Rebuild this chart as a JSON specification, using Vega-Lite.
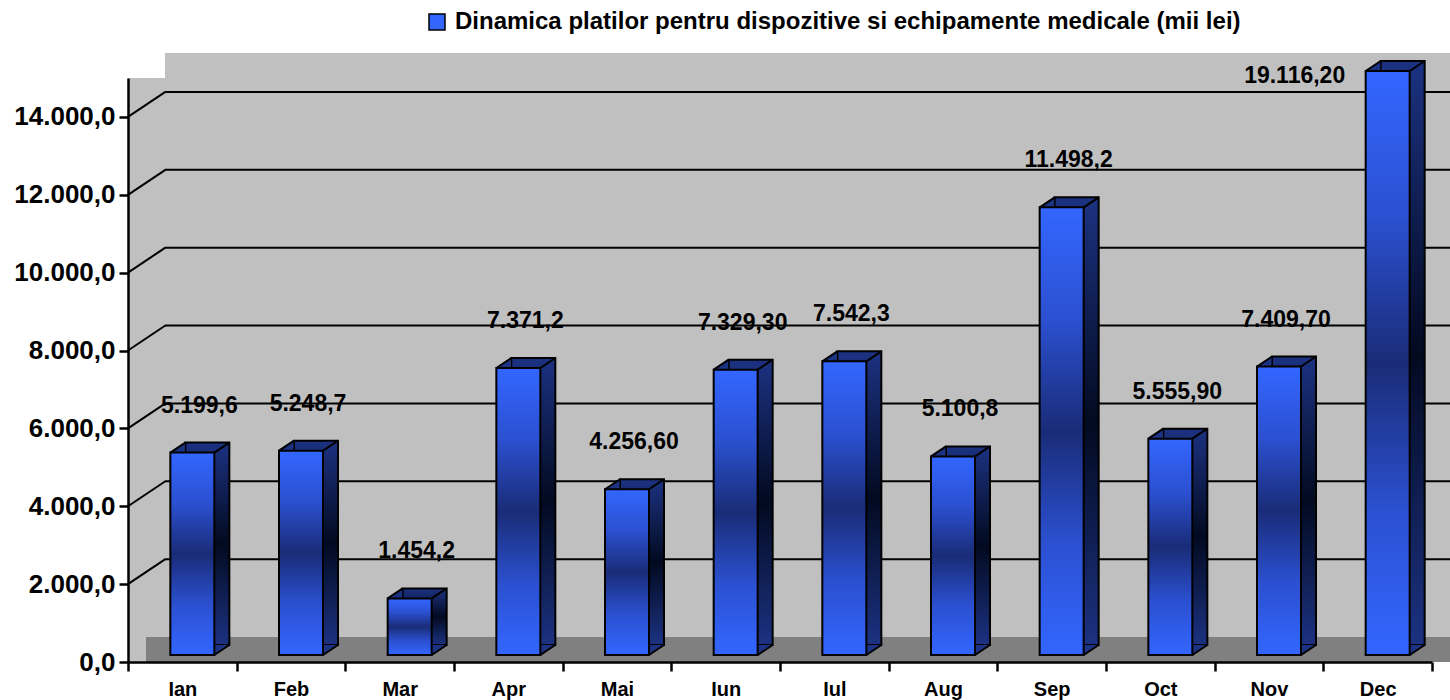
{
  "$schema": "https://vega.github.io/schema/vega-lite/v6.json",
  "autosize": {"type": "none"},
  "width": 1304,
  "height": 584,
  "padding": {"left": 128, "top": 78, "right": 18, "bottom": 38},
  "background": "white",
  "config": {
    "font": "Liberation Sans",
    "view": {"fill": "#c0c0c0", "stroke": null},
    "locale": {"number": {"decimal": ",", "thousands": ".", "grouping": [3], "currency": ["", ""]}},
    "axis": {"labelFont": "Liberation Sans", "labelFontWeight": "bold", "labelColor": "black", "domainColor": "black", "tickColor": "black", "domainWidth": 2.5, "tickWidth": 2.5, "grid": false, "title": null}
  },
  "data": {"values": [
    {"luna": "Ian", "valoare": 5199.6, "eticheta": "5.199,6"},
    {"luna": "Feb", "valoare": 5248.7, "eticheta": "5.248,7"},
    {"luna": "Mar", "valoare": 1454.2, "eticheta": "1.454,2"},
    {"luna": "Apr", "valoare": 7371.2, "eticheta": "7.371,2"},
    {"luna": "Mai", "valoare": 4256.6, "eticheta": "4.256,60"},
    {"luna": "Iun", "valoare": 7329.3, "eticheta": "7.329,30"},
    {"luna": "Iul", "valoare": 7542.3, "eticheta": "7.542,3"},
    {"luna": "Aug", "valoare": 5100.8, "eticheta": "5.100,8"},
    {"luna": "Sep", "valoare": 11498.2, "eticheta": "11.498,2"},
    {"luna": "Oct", "valoare": 5555.9, "eticheta": "5.555,90"},
    {"luna": "Nov", "valoare": 7409.7, "eticheta": "7.409,70"},
    {"luna": "Dec", "valoare": 19116.2, "eticheta": "19.116,20"}
  ]},
  "encoding": {
    "x": {"field": "luna", "type": "nominal", "sort": null,
      "scale": {"domain": ["Ian", "Feb", "Mar", "Apr", "Mai", "Iun", "Iul", "Aug", "Sep", "Oct", "Nov", "Dec"], "paddingInner": 0, "paddingOuter": 0},
      "axis": {"labelAngle": 0, "labelFontSize": 20, "tickBand": "extent", "tickSize": 9, "labelPadding": 8}}
  },
  "layer": [
    {
      "data": {"values": [{"z": 0, "t": 15000}]},
      "mark": {"type": "rect", "color": "#c0c0c0", "xOffset": 37, "x2Offset": 80, "yOffset": -25, "y2Offset": -25},
      "encoding": {
        "x": {"datum": "Ian", "bandPosition": 0},
        "x2": {"datum": "Dec"},
        "y": {"field": "z", "type": "quantitative"},
        "y2": {"field": "t"}
      }
    },
    {
      "data": {"values": [{"z": 0}]},
      "mark": {"type": "rect", "color": "#808080", "xOffset": 18, "x2Offset": 80, "yOffset": -25},
      "encoding": {
        "x": {"datum": "Ian", "bandPosition": 0},
        "x2": {"datum": "Dec"},
        "y": {"field": "z", "type": "quantitative"},
        "y2": {"field": "z"}
      }
    },
    {
      "data": {"values": [{"g": 2000}, {"g": 4000}, {"g": 6000}, {"g": 8000}, {"g": 10000}, {"g": 12000}, {"g": 14000}]},
      "mark": {"type": "rule", "color": "black", "strokeWidth": 2, "xOffset": 37, "x2Offset": 80, "yOffset": -25, "y2Offset": -25},
      "encoding": {
        "x": {"datum": "Ian", "bandPosition": 0},
        "x2": {"datum": "Dec"},
        "y": {"field": "g", "type": "quantitative"},
        "y2": {"field": "g"}
      }
    },
    {
      "data": {"values": [{"g": 2000}, {"g": 4000}, {"g": 6000}, {"g": 8000}, {"g": 10000}, {"g": 12000}, {"g": 14000}]},
      "mark": {"type": "rule", "color": "black", "strokeWidth": 2, "x2Offset": -17, "y2Offset": -25},
      "encoding": {
        "x": {"datum": "Ian", "bandPosition": 0},
        "x2": {"datum": "Ian"},
        "y": {"field": "g", "type": "quantitative"},
        "y2": {"field": "g"}
      }
    },
    {
      "mark": {"type": "bar", "width": 44, "xOffset": 25, "yOffset": -17, "y2Offset": -17, "stroke": "black", "strokeWidth": 2,
        "fill": {"gradient": "linear", "x1": 0, "y1": 0, "x2": 0, "y2": 1, "stops": [
          {"offset": 0, "color": "#1c3282"}, {"offset": 0.5, "color": "#020a20"}, {"offset": 1, "color": "#1c3282"}]}},
      "encoding": {
        "y": {"field": "valoare", "type": "quantitative",
          "scale": {"domain": [0, 15000], "clamp": true, "nice": false},
          "axis": {"values": [0, 2000, 4000, 6000, 8000, 10000, 12000, 14000], "format": ",.1f", "labelFontSize": 26, "tickSize": 9, "labelPadding": 4}}
      }
    },
    {
      "mark": {"type": "point", "shape": "M -1 0.667 L 1 -0.667 L 1 0.667 Z", "size": 225, "filled": true, "opacity": 1, "color": "#1c3282", "strokeWidth": 0, "xOffset": -5, "yOffset": -12},
      "encoding": {"y": {"field": "valoare", "type": "quantitative"}}
    },
    {
      "data": {"values": [{"luna": "Ian"}, {"luna": "Feb"}, {"luna": "Mar"}, {"luna": "Apr"}, {"luna": "Mai"}, {"luna": "Iun"}, {"luna": "Iul"}, {"luna": "Aug"}, {"luna": "Sep"}, {"luna": "Oct"}, {"luna": "Nov"}, {"luna": "Dec"}]},
      "mark": {"type": "point", "shape": "M -1 -0.667 L 1 -0.667 L -1 0.667 Z", "size": 225, "filled": true, "opacity": 1, "color": "#1c3282", "strokeWidth": 0, "xOffset": 39, "yOffset": -12},
      "encoding": {"y": {"datum": 0, "type": "quantitative"}}
    },
    {
      "mark": {"type": "bar", "width": 44, "xOffset": 10, "yOffset": -7, "y2Offset": -7, "stroke": "black", "strokeWidth": 2,
        "fill": {"gradient": "linear", "x1": 0, "y1": 0, "x2": 0, "y2": 1, "stops": [
          {"offset": 0, "color": "#3366ff"}, {"offset": 0.25, "color": "#2b50d0"}, {"offset": 0.5, "color": "#1a2c78"}, {"offset": 0.75, "color": "#2b50d0"}, {"offset": 1, "color": "#3366ff"}]}},
      "encoding": {"y": {"field": "valoare", "type": "quantitative"}}
    },
    {
      "mark": {"type": "rule", "color": "black", "strokeWidth": 2, "xOffset": -12, "x2Offset": 3, "yOffset": -7, "y2Offset": -17},
      "encoding": {"x2": {"field": "luna"}, "y": {"field": "valoare", "type": "quantitative"}, "y2": {"field": "valoare"}}
    },
    {
      "mark": {"type": "rule", "color": "black", "strokeWidth": 2, "xOffset": 32, "x2Offset": 47, "yOffset": -7, "y2Offset": -17},
      "encoding": {"x2": {"field": "luna"}, "y": {"field": "valoare", "type": "quantitative"}, "y2": {"field": "valoare"}}
    },
    {
      "data": {"values": [{"luna": "Ian"}, {"luna": "Feb"}, {"luna": "Mar"}, {"luna": "Apr"}, {"luna": "Mai"}, {"luna": "Iun"}, {"luna": "Iul"}, {"luna": "Aug"}, {"luna": "Sep"}, {"luna": "Oct"}, {"luna": "Nov"}, {"luna": "Dec"}]},
      "mark": {"type": "rule", "color": "black", "strokeWidth": 2, "xOffset": 32, "x2Offset": 47, "yOffset": -7, "y2Offset": -17},
      "encoding": {"x2": {"field": "luna"}, "y": {"datum": 0, "type": "quantitative"}, "y2": {"datum": 0}}
    },
    {
      "transform": [{"filter": "datum.valoare <= 15000"}],
      "mark": {"type": "text", "font": "Liberation Sans", "fontWeight": "bold", "fontSize": 23, "color": "black", "baseline": "middle", "dx": 17, "dy": -54},
      "encoding": {"y": {"field": "valoare", "type": "quantitative"}, "text": {"field": "eticheta"}}
    },
    {
      "transform": [{"filter": "datum.valoare > 15000"}],
      "mark": {"type": "text", "font": "Liberation Sans", "fontWeight": "bold", "fontSize": 23, "color": "black", "baseline": "middle", "dx": -83, "dy": -2},
      "encoding": {"y": {"field": "valoare", "type": "quantitative"}, "text": {"field": "eticheta"}}
    },
    {
      "data": {"values": [{"s": "Dinamica platilor pentru dispozitive si echipamente medicale (mii lei)"}]},
      "mark": {"type": "point", "shape": "square", "filled": true, "opacity": 0},
      "encoding": {
        "x": {"datum": "Ian"},
        "y": {"datum": 0, "type": "quantitative"},
        "color": {"field": "s", "type": "nominal", "scale": {"range": ["#3366ff"]},
          "legend": {"title": null, "orient": "none", "legendX": 297, "legendY": -68, "symbolType": "square", "symbolSize": 256,
            "symbolOpacity": 1, "symbolStrokeColor": "black", "symbolStrokeWidth": 1.5, "labelFont": "Liberation Sans", "labelFontWeight": "bold",
            "labelFontSize": 24, "labelColor": "black", "labelOffset": 6, "labelLimit": 1000, "padding": 0}}
      }
    }
  ]
}
